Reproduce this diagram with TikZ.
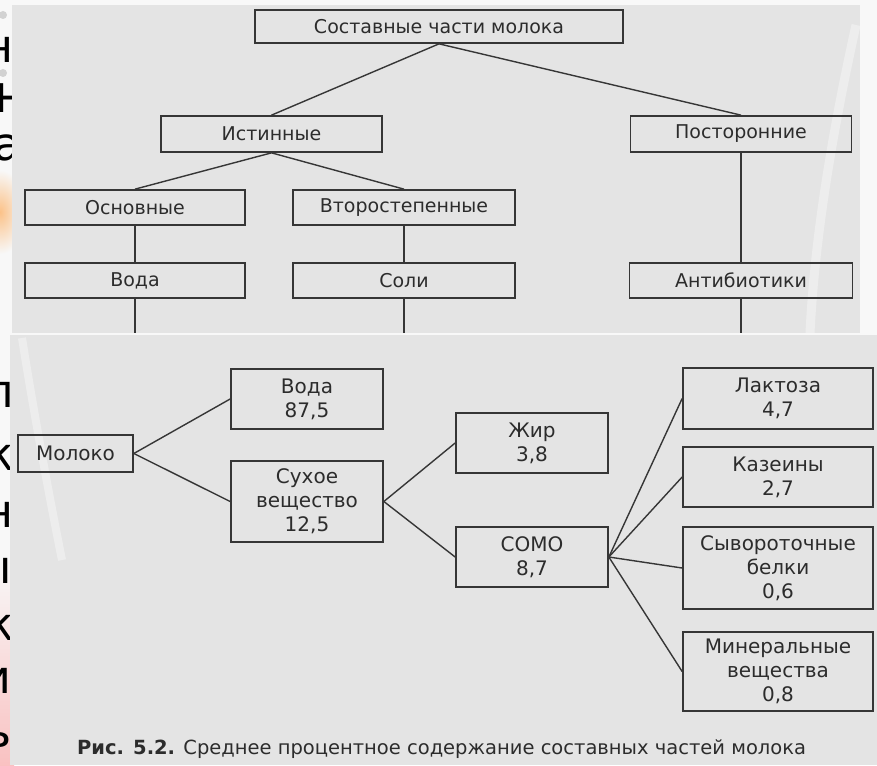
\documentclass[tikz,border=0pt]{standalone}
\usepackage{fontspec}
\setmainfont{DejaVu Sans}
\definecolor{panel}{HTML}{E4E4E4}
\definecolor{ink}{HTML}{2C2C2C}
\definecolor{edge}{HTML}{363636}
\definecolor{paper}{HTML}{F8F8F8}
\begin{document}
\begin{tikzpicture}[x=1pt,y=-1pt,
  box/.style={draw=edge, line width=1.7pt, inner sep=0pt, align=center, text=ink},
  topf/.style={font=\fontsize{19}{23}\selectfont},
  botf/.style={font=\fontsize{20}{24}\selectfont},
  conn/.style={draw=edge, line width=1.4pt},
  bigletter/.style={font=\fontsize{46}{50}\selectfont, anchor=base east, inner sep=0pt, text=black}]
\useasboundingbox (0,0) rectangle (877,765);
\fill[paper] (0,0) rectangle (877,765);
% left strip decorations (fragments of a slide behind the scan)
\shade[top color=paper, bottom color=red!22!paper] (0,560) rectangle (14,765);
\shade[inner color=orange!45!paper, outer color=paper] (0,212) ellipse [x radius=26, y radius=42];
\fill[gray!35] (3,15) circle [radius=4];
\fill[gray!35] (3,73) circle [radius=4];
\begin{scope}
  \clip (0,0) rectangle (13,765);
  \node[bigletter] (g1) at (14,63) {н};
  \node[bigletter] (g2) at (21,113) {+};
  \node[bigletter] (g3) at (22,160) {а};
  \node[bigletter] (g4) at (14,407) {л};
  \node[bigletter] (g5) at (14,470) {к};
  \node[bigletter] (g6) at (14,527) {н};
  \node[bigletter] (g7) at (12,583) {ы};
  \node[bigletter] (g8) at (14,640) {к};
  \node[bigletter] (g9) at (12,693) {и};
  \node[bigletter] (g10) at (12,747) {ь};
\end{scope}
% scanned panels
\fill[panel] (12,5) rectangle (860,333);
\fill[panel] (10,335) rectangle (877,765);
% glare streaks
\draw[white, opacity=0.35, line width=9pt] (856,25) .. controls (835,120) and (815,230) .. (810,333);
\draw[white, opacity=0.35, line width=8pt] (22,338) .. controls (35,420) and (50,500) .. (62,560);

% ---------- upper tree ----------
\node[box, topf, minimum width=368pt, minimum height=33pt] (T) at (439,26.5) {Составные части молока};
\node[box, topf, minimum width=221pt, minimum height=36pt] (I) at (271.5,134) {Истинные};
\node[box, topf, minimum width=221pt, minimum height=36pt] (P) at (741,134) {Посторонние};
\node[box, topf, minimum width=220pt, minimum height=35pt] (O) at (135,207.5) {Основные};
\node[box, topf, minimum width=222pt, minimum height=35pt] (V) at (404,207.5) {Второстепенные};
\node[box, topf, minimum width=220pt, minimum height=35pt] (W) at (135,280.5) {Вода};
\node[box, topf, minimum width=222pt, minimum height=35pt] (S) at (404,280.5) {Соли};
\node[box, topf, minimum width=223pt, minimum height=35pt] (A) at (741,280.5) {Антибиотики};
\coordinate (We) at (135,333);
\coordinate (Se) at (404,333);
\coordinate (Ae) at (741,333);
\draw[conn] (T.south) -- (I.north);
\draw[conn] (T.south) -- (P.north);
\draw[conn] (I.south) -- (O.north);
\draw[conn] (I.south) -- (V.north);
\draw[conn] (O.south) -- (W.north);
\draw[conn] (V.south) -- (S.north);
\draw[conn] (P.south) -- (A.north);
\draw[conn] (W.south) -- (We);
\draw[conn] (S.south) -- (Se);
\draw[conn] (A.south) -- (Ae);

% ---------- lower tree ----------
\node[box, botf, minimum width=115pt, minimum height=37pt] (M) at (75.5,453.5) {Молоко};
\node[box, botf, minimum width=152pt, minimum height=60pt] (B1) at (307,399) {Вода\\87,5};
\node[box, botf, minimum width=152pt, minimum height=81pt] (B2) at (307,501.5) {Сухое\\вещество\\12,5};
\node[box, botf, minimum width=152pt, minimum height=60pt] (J) at (532,443) {Жир\\3,8};
\node[box, botf, minimum width=152pt, minimum height=60pt] (C) at (532,557) {СОМО\\8,7};
\node[box, botf, minimum width=190pt, minimum height=61pt] (L) at (778,398.5) {Лактоза\\4,7};
\node[box, botf, minimum width=190pt, minimum height=60pt] (K) at (778,477) {Казеины\\2,7};
\node[box, botf, minimum width=190pt, minimum height=82pt] (Sy) at (778,568) {Сывороточные\\белки\\0,6};
\node[box, botf, minimum width=190pt, minimum height=79pt] (Mi) at (778,671.5) {Минеральные\\вещества\\0,8};
\draw[conn] (M.east) -- (B1.west);
\draw[conn] (M.east) -- (B2.west);
\draw[conn] (B2.east) -- (J.west);
\draw[conn] (B2.east) -- (C.west);
\draw[conn] (C.east) -- (L.west);
\draw[conn] (C.east) -- (K.west);
\draw[conn] (C.east) -- (Sy.west);
\draw[conn] (C.east) -- (Mi.west);

\node[anchor=base west, inner sep=0pt, text=ink, font=\fontsize{19.5}{23}\selectfont] (cap) at (77,754)
  {\textbf{Рис. 5.2.} Среднее процентное содержание составных частей молока};
\end{tikzpicture}
\end{document}
